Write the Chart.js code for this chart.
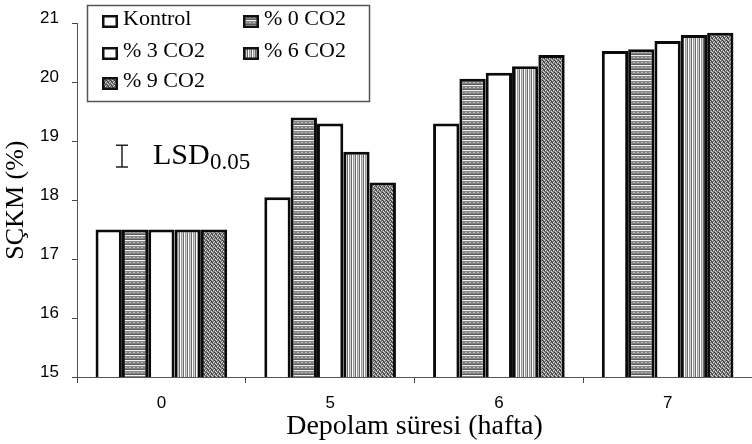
<!DOCTYPE html>
<html>
<head>
<meta charset="utf-8">
<script src="https://cdn.jsdelivr.net/npm/chart.js@4.4.1/dist/chart.umd.min.js"></script>
<style>html,body{margin:0;padding:0;background:#fff}</style>
</head>
<body>
<canvas id="c" width="752" height="444"></canvas>
<script>
// data
var weeks = ['0', '5', '6', '7'];
var seriesNames = ['Kontrol', '% 0 CO2', '% 3 CO2', '% 6 CO2', '% 9 CO2'];
var kontrol = [17.5, 18.05, 19.3, 20.53];
var co2_0 = [17.5, 19.4, 20.06, 20.56];
var co2_3 = [17.5, 19.3, 20.16, 20.7];
var co2_6 = [17.5, 18.82, 20.27, 20.8];
var co2_9 = [17.5, 18.3, 20.46, 20.84];
var yMin = 15, yMax = 21;
var lsdTop = 18.93, lsd = 0.37;

var ctx = document.getElementById('c').getContext('2d');
var serif = '"Liberation Serif", "Times New Roman", serif';
var sans = '"Liberation Sans", Arial, sans-serif';

function makePattern(w, h, draw) {
    var c = document.createElement('canvas');
    c.width = w; c.height = h;
    draw(c.getContext('2d'));
    return ctx.createPattern(c, 'repeat');
}

// horizontal hatch
var hPattern = makePattern(4, 5, function (g) {
    g.fillStyle = '#858585'; g.fillRect(0, 0, 4, 5);
    g.fillStyle = '#f4f4f4'; g.fillRect(0, 0, 4, 1);
    g.fillStyle = '#b8b8b8'; g.fillRect(1, 2, 2, 1);
    g.fillStyle = '#5a5a5a'; g.fillRect(0, 4, 4, 1);
});
// vertical stripes
var vPattern = makePattern(4, 4, function (g) {
    g.fillStyle = '#ffffff'; g.fillRect(0, 0, 1, 4);
    g.fillStyle = '#999999'; g.fillRect(1, 0, 1, 4);
    g.fillStyle = '#cfcfcf'; g.fillRect(2, 0, 1, 4);
    g.fillStyle = '#6a6a6a'; g.fillRect(3, 0, 1, 4);
});
// stipple
var sPattern = makePattern(4, 4, function (g) {
    g.fillStyle = '#767676'; g.fillRect(0, 0, 4, 4);
    g.fillStyle = '#d8d8d8';
    g.fillRect(0, 0, 1, 1); g.fillRect(2, 1, 1, 1); g.fillRect(1, 2, 1, 1); g.fillRect(3, 3, 1, 1);
    g.fillStyle = '#383838';
    g.fillRect(2, 0, 1, 1); g.fillRect(0, 2, 1, 1); g.fillRect(3, 1, 1, 1);
});

var fills = ['#ffffff', hPattern, '#ffffff', vPattern, sPattern];
var values = [kontrol, co2_0, co2_3, co2_6, co2_9];

var datasets = values.map(function (v, i) {
    return {
        label: seriesNames[i],
        data: v,
        backgroundColor: fills[i],
        borderColor: '#0a0a0a',
        borderWidth: 3,
        borderSkipped: false,
        barPercentage: 1.0,
        categoryPercentage: 0.78
    };
});

// boxed legend inside the plot, and the LSD bar
var extras = {
    id: 'extras',
    afterDraw: function (chart) {
        var c = chart.ctx;
        c.save();
        c.lineWidth = 1.5;
        c.strokeStyle = '#555';
        c.strokeRect(87.5, 5.5, 282, 96);

        var colX = [102, 243];
        var rowBase = [25, 57, 87];
        c.font = '22px ' + serif;
        c.textBaseline = 'alphabetic';
        chart.data.datasets.forEach(function (ds, i) {
            var x = colX[i % 2], b = rowBase[Math.floor(i / 2)];
            c.fillStyle = ds.backgroundColor;
            c.fillRect(x, b - 10, 16, 13);
            c.lineWidth = 2.5;
            c.strokeStyle = '#111';
            c.strokeRect(x + 1.25, b - 8.75, 13.5, 10.5);
            c.fillStyle = '#000';
            c.fillText(ds.label, x + 21, b);
        });

        // LSD bar
        var y = chart.scales.y;
        var y1 = y.getPixelForValue(lsdTop), y2 = y.getPixelForValue(lsdTop - lsd);
        c.strokeStyle = '#222';
        c.lineWidth = 1.5;
        c.beginPath();
        c.moveTo(122, y1); c.lineTo(122, y2);
        c.moveTo(116, y1); c.lineTo(128, y1);
        c.moveTo(116, y2); c.lineTo(128, y2);
        c.stroke();
        c.fillStyle = '#000';
        c.font = '30px ' + serif;
        c.fillText('LSD', 153, 164);
        c.font = '23px ' + serif;
        c.fillText('0.05', 210, 169);
        c.restore();
    }
};

new Chart(ctx, {
    type: 'bar',
    data: { labels: weeks, datasets: datasets },
    options: {
        responsive: false,
        animation: false,
        layout: { padding: { left: 0, top: 20, right: -5, bottom: 0 } },
        plugins: { legend: { display: false }, tooltip: { enabled: false } },
        scales: {
            x: {
                afterFit: function (s) { s.height = 67; },
                grid: { display: true, drawOnChartArea: false, offset: true, tickLength: 6, color: '#444' },
                border: { color: '#555', width: 1 },
                ticks: { color: '#000', padding: 10, font: { family: sans, size: 17 } },
                title: { display: true, text: 'Depolam süresi (hafta)', color: '#000', font: { family: serif, size: 28 }, padding: { top: 0, bottom: 1 } }
            },
            y: {
                min: yMin,
                max: yMax,
                afterFit: function (s) { s.width = 77; },
                grid: { display: true, drawOnChartArea: false, tickLength: 5, color: '#444' },
                border: { color: '#555', width: 1 },
                ticks: { stepSize: 1, color: '#000', padding: 13, labelOffset: -5, font: { family: sans, size: 17 } },
                title: { display: true, text: 'SÇKM (%)', color: '#000', font: { family: serif, size: 26 }, padding: { top: 1, bottom: 0 } }
            }
        }
    },
    plugins: [extras]
});
</script>
</body>
</html>
